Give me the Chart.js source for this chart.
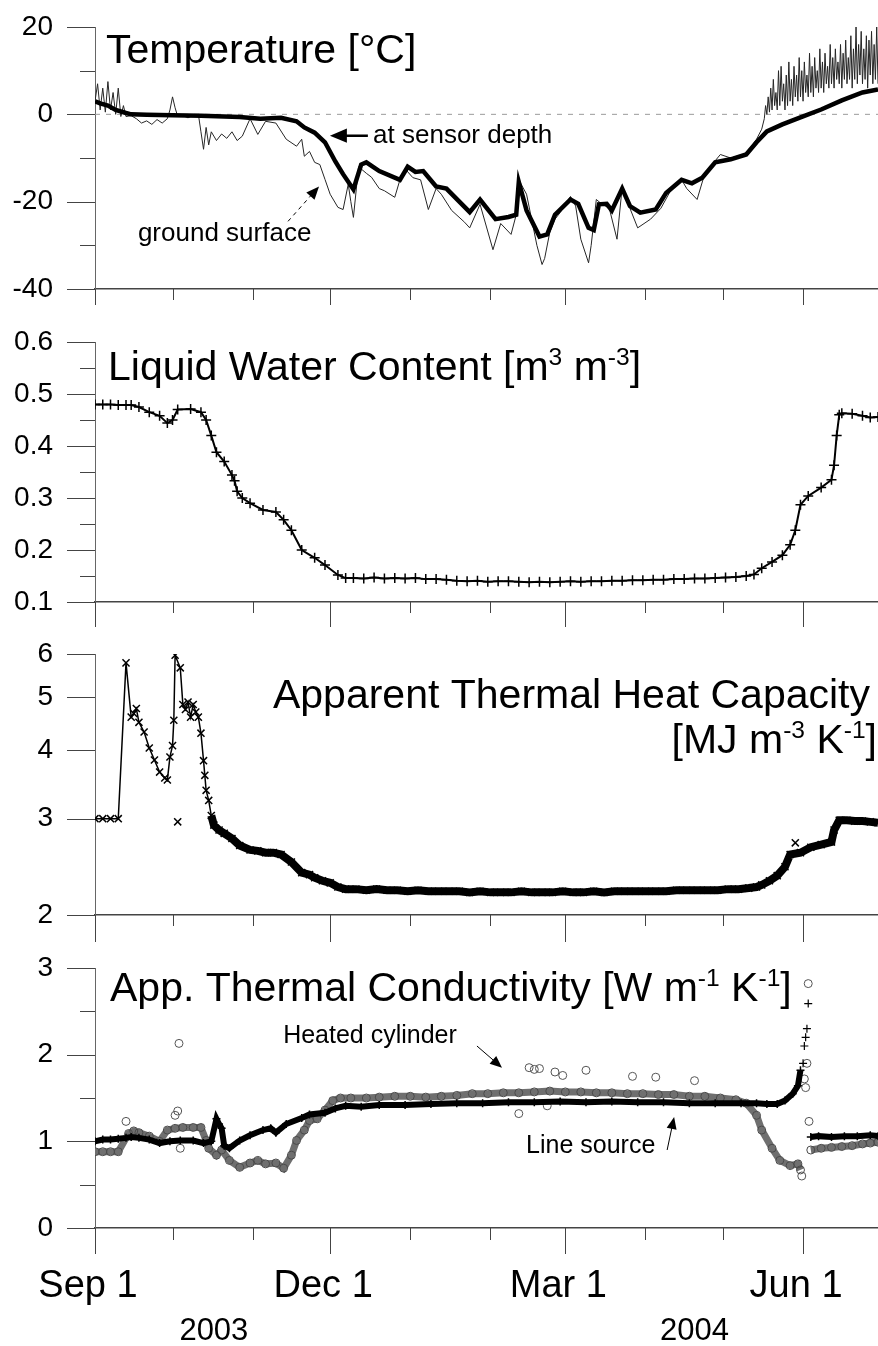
<!DOCTYPE html>
<html>
<head>
<meta charset="utf-8">
<title>Soil temperature, water and thermal properties 2003-2004</title>
<script src="https://cdn.jsdelivr.net/npm/chart.js@4.4.0/dist/chart.umd.min.js"></script>
<style>
  body { margin: 0; background: #fff; }
  #wrap { position: relative; width: 878px; height: 1346px; overflow: hidden; background: #fff; }
  canvas { position: absolute; left: 0; }
</style>
</head>
<body>
<div id="wrap">
  <canvas id="tempChart" width="878" height="317" style="top:2px"></canvas>
  <canvas id="waterChart" width="878" height="315" style="top:317px"></canvas>
  <canvas id="capChart" width="878" height="316" style="top:629px"></canvas>
  <canvas id="condChart" width="878" height="403" style="top:943px"></canvas>
</div>
<script>
// x values are days since Sep 1 2003
const monthDays = [0, 30, 61, 91, 122, 153, 182, 213, 243, 274];
const labelDays = [0, 91, 182, 274];
const labelText = ['Sep 1', 'Dec 1', 'Mar 1', 'Jun 1'];
const yearDays = [46, 232];
const yearText = ['2003', '2004'];

// Temperature [°C]
const sensorDays = [0,2,5,8,12,14,20,30,41,50,56,64,72,78,81,85,89,93,96,100,103,105,110,118,121,124,127,132,136,145,149,155,160,163,164,167,172,175,178,184,187,191,193,195,198,200,204,207,211,217,221,227,231,235,240,246,252,256,260,266,273,281,289,297,303];
const sensorTemp = [3,2.5,2,1,0.3,0,-0.1,-0.2,-0.3,-0.5,-0.6,-1,-0.8,-1.6,-3,-4.2,-6.4,-10.8,-13.7,-17.2,-11.5,-11,-13,-15,-12,-13.2,-13,-16.5,-17,-22.4,-19.5,-24,-23.5,-23,-15.5,-22,-28,-27.5,-23,-19.5,-20.5,-26,-26.5,-20.6,-20.5,-22,-17,-21,-22.5,-21.8,-18,-15,-15.8,-14.5,-11,-10.3,-9.2,-6.4,-3.9,-2.3,-0.7,1.1,3.2,5,5.7];
const surfaceDays = [
  0,1,2,3,4,5,6,7,8,9,
  10,11,12,14,16,18,20,22,24,26,
  28,29,30,31,32,34,36,38,40,41,
  42,43,44,45,47,49,51,53,55,57,
  60,63,66,70,74,78,80,81,83,85,
  87,89,91,94,96,98,99,100,102,105,
  107,110,112,116,118,120,123,126,129,132,
  134,138,143,145,149,154,157,161,163,164,
  167,171,173,174,176,178,180,184,186,188,
  191,192,194,196,199,202,204,207,210,215,
  219,223,227,229,233,236,242,246,252,256,
  258,259,259.5,260,260.5,261,261.5,262,262.5,263,
  263.5,264,264.5,265,265.5,266,266.5,267,267.5,268,
  268.5,269,269.5,270,270.5,271,271.5,272,272.5,273,
  273.5,274,274.5,275,275.5,276,276.5,277,277.5,278,
  278.5,279,279.5,280,280.5,281,281.5,282,282.5,283,
  283.5,284,284.5,285,285.5,286,286.5,287,287.5,288,
  288.5,289,289.5,290,290.5,291,291.5,292,292.5,293,
  293.5,294,294.5,295,295.5,296,296.5,297,297.5,298,
  298.5,299,299.5,300,300.5,301,301.5,302,302.5,303];
const surfaceTemp = [
  3,7,1,6,0.5,7.5,1,5,0,6,
  -0.5,2,-0.5,-0.3,-1,-2,-1.5,-2.3,-1.2,-2,
  -1,1,4,1.5,-0.5,-0.3,-0.8,-0.2,0,-4,
  -8,-3,-7,-4,-6,-4.5,-5.5,-4,-6,-5,
  -1,-4.6,-1.6,-2,-5.7,-7.3,-5.7,-9.6,-8.5,-11,
  -11.5,-14.9,-18.3,-21.3,-21.8,-16,-20,-23.6,-12,-13.5,
  -14.4,-17,-17.5,-19,-15,-12.5,-14.5,-15,-21.8,-17,
  -18.3,-22,-24.7,-26,-20.6,-31,-25,-27.5,-23,-15,
  -18.3,-30,-34.4,-33,-27,-24,-22.5,-18.8,-21,-28.6,
  -34,-30,-19.5,-20.5,-21.5,-28.6,-16.7,-21.5,-26,-24,
  -21.5,-17.2,-15,-17,-19.5,-13.5,-9.2,-10,-9,-5.7,
  -3.4,-1,2,0,4,0.5,6,1,8,2,
  5,1,10,2,11,3,7,1,9,2,
  12,3,8,2,11,4,9,3,13,4,
  10,3,12,5,9,4,14,5,11,4,
  13,6,10,5,15,6,12,5,14,7,
  11,6,16,7,13,6,15,8,12,7,
  16,6,14,8,17,7,13,8,18,6,
  15,8,20,7,16,9,19,7,15,8,
  18,6,17,9,19,7,16,8,20,7];
const zeroDays = [0, 303];
const zeroTemp = [0, 0];
const tempTicks = [-40, -30, -20, -10, 0, 10, 20];
const tempLabels = [-40, -20, 0, 20];

// Liquid water content [m3 m-3]
const lwcDays = [
  0,3,6,9,12,14,17,21,25,28,
  30,32,37,41,43,45,47,50,53,54,
  55,57,60,65,70,73,76,80,85,89,
  94,97,100,104,108,112,116,120,124,128,
  132,136,140,144,148,152,156,160,164,168,
  172,176,180,184,188,192,196,200,204,208,
  212,216,220,224,228,232,236,240,244,248,
  252,255,258,262,266,269,271,273,276,281,
  285,286,287,288,289,293,297,300,303];
const lwcVals = [
  0.48,0.48,0.48,0.479,0.479,0.479,0.475,0.465,0.458,0.444,
  0.45,0.47,0.471,0.465,0.45,0.42,0.388,0.37,0.344,0.333,
  0.313,0.3,0.29,0.277,0.273,0.258,0.238,0.2,0.185,0.171,
  0.152,0.146,0.146,0.145,0.147,0.145,0.146,0.145,0.146,0.144,
  0.144,0.143,0.141,0.14,0.141,0.139,0.14,0.14,0.139,0.138,
  0.139,0.138,0.139,0.14,0.139,0.14,0.14,0.141,0.141,0.142,
  0.142,0.143,0.143,0.144,0.144,0.145,0.145,0.146,0.147,0.148,
  0.15,0.153,0.165,0.177,0.19,0.21,0.238,0.287,0.304,0.32,
  0.335,0.363,0.42,0.46,0.463,0.462,0.458,0.455,0.456];
const lwcTicks = [0.1, 0.15, 0.2, 0.25, 0.3, 0.35, 0.4, 0.45, 0.5, 0.55, 0.6];
const lwcLabels = [0.1, 0.2, 0.3, 0.4, 0.5, 0.6];

// Apparent heat capacity [MJ m-3 K-1]
const capDays = [
  0,3,6,9,12,14,15,16,17,19,
  21,23,25,27,28,29,30,30.5,31,33,
  34,35,36,37,38,39,40,41,42,42.5,
  43,44,45,46,48,50,53,56,60,63,
  66,69,72,76,80,83,85,88,91,94,
  97,101,105,109,113,117,121,125,129,133,
  137,141,145,149,153,157,161,165,169,173,
  177,181,185,189,193,197,201,205,209,213,
  217,221,225,229,233,237,241,245,249,253,
  256,258,261,264,267,269,273,277,281,285,
  286,288,291,294,297,300,303];
const capVals = [
  3,3,3,3,5.78,4.6,4.67,4.77,4.5,4.32,
  4.04,3.84,3.65,3.56,3.53,3.89,4.08,4.54,5.97,5.66,
  4.85,4.75,4.9,4.6,4.85,4.7,4.6,4.3,3.83,3.6,
  3.38,3.24,3.04,2.92,2.86,2.82,2.76,2.68,2.63,2.62,
  2.6,2.6,2.58,2.5,2.39,2.37,2.34,2.31,2.29,2.25,
  2.23,2.23,2.22,2.23,2.22,2.22,2.21,2.22,2.21,2.21,
  2.21,2.21,2.2,2.21,2.2,2.2,2.2,2.21,2.2,2.2,
  2.2,2.21,2.2,2.2,2.21,2.2,2.21,2.21,2.21,2.21,
  2.21,2.21,2.22,2.22,2.22,2.22,2.22,2.23,2.23,2.24,
  2.25,2.27,2.31,2.36,2.45,2.58,2.6,2.66,2.69,2.72,
  2.86,2.98,2.98,2.97,2.97,2.96,2.95];
const capOutDays = [32, 271];
const capOutVals = [2.96, 2.71];
const capTicks = [2, 3, 4, 5, 6];

// Apparent thermal conductivity [W m-1 K-1]
const lineDays = [
  0,3,6,9,12,14,17,21,25,29,
  33,38,42,45,47,48,49,50,52,56,
  60,65,68,70,74,80,83,89,93,97,
  103,110,120,130,140,150,160,170,180,190,
  200,210,220,230,240,250,256,260,264,267,
  270,272,273,275,277,280,285,290,295,300,
  303];
const lineVals = [
  1,1.02,1.02,1.03,1.04,1.05,1.04,1.02,0.98,1,
  1.01,1.01,0.98,1,1.26,1.2,1.15,0.95,0.92,1.01,
  1.07,1.13,1.15,1.1,1.2,1.27,1.31,1.33,1.38,1.41,
  1.4,1.42,1.42,1.43,1.44,1.44,1.45,1.45,1.46,1.45,
  1.46,1.45,1.45,1.44,1.44,1.44,1.44,1.43,1.43,1.47,
  1.55,1.64,1.82,null,1.05,1.06,1.05,1.06,1.06,1.07,
  1.06];
const lineOutDays = [274, 274.5, 275, 275.5, 276];
const lineOutVals = [1.9, 2.1, 2.2, 2.3, 2.59];
const cylDays = [
  0,3,6,9,13,15,17,21,25,28,
  31,34,38,41,43,44,47,49,52,56,
  60,63,66,70,73,76,78,81,83,86,
  89,92,95,99,105,110,116,122,128,134,
  140,146,152,158,164,170,176,182,188,194,
  200,206,212,218,224,230,236,242,248,252,
  256,258,262,265,269,272,273,275,277,281,
  285,289,293,297,300,303];
const cylVals = [
  0.88,0.88,0.88,0.88,1.09,1.12,1.1,1.06,1,1.13,
  1.15,1.16,1.16,1.16,1.01,0.92,0.84,0.9,0.78,0.7,
  0.75,0.78,0.74,0.75,0.69,0.84,1.01,1.13,1.24,1.26,
  1.36,1.47,1.5,1.5,1.5,1.51,1.52,1.52,1.51,1.52,
  1.53,1.55,1.55,1.56,1.56,1.57,1.58,1.57,1.57,1.56,
  1.56,1.55,1.55,1.54,1.54,1.52,1.52,1.5,1.48,1.44,
  1.3,1.13,0.92,0.78,0.72,0.74,0.67,null,0.9,0.92,
  0.93,0.94,0.95,0.97,0.98,0.99];
const cylOutDays = [12,31,32,32.5,33,164,168,170,172,175,178,181,190,208,217,232,273.5,274.5,275,275.5,276,276.3];
const cylOutVals = [1.23,1.3,1.35,2.13,0.92,1.32,1.85,1.83,1.84,1.41,1.8,1.76,1.82,1.75,1.74,1.7,0.6,1.72,1.62,1.9,2.82,1.23];
const condTicks = [0, 0.5, 1, 1.5, 2, 2.5, 3];
const condLabels = [0, 1, 2, 3];

const fontFam = '"Liberation Sans", Arial, Helvetica, sans-serif';
Chart.defaults.font.family = fontFam;
Chart.defaults.color = '#000';

function pts(days, vals) {
  return days.map((d, i) => ({ x: d, y: vals[i] }));
}

// text with superscript pieces: parts = [[text, isSup], ...]
function drawRich(ctx, parts, x, y, size, align) {
  const widths = parts.map(p => {
    ctx.font = (p[1] ? size * 0.6 : size) + 'px ' + fontFam;
    return ctx.measureText(p[0]).width;
  });
  let cx = align === 'right' ? x - widths.reduce((a, b) => a + b, 0) : x;
  ctx.textAlign = 'left';
  parts.forEach((p, i) => {
    ctx.font = (p[1] ? size * 0.6 : size) + 'px ' + fontFam;
    ctx.fillText(p[0], cx, p[1] ? y - size * 0.36 : y);
    cx += widths[i];
  });
}

function arrow(ctx, x1, y1, x2, y2, head, lw, dashed) {
  const a = Math.atan2(y2 - y1, x2 - x1);
  const c = Math.cos(a), s = Math.sin(a);
  ctx.lineWidth = lw;
  ctx.setLineDash(dashed ? [4, 4] : []);
  ctx.beginPath();
  ctx.moveTo(x1, y1);
  ctx.lineTo(x2 - c * head * 0.8, y2 - s * head * 0.8);
  ctx.stroke();
  ctx.setLineDash([]);
  ctx.beginPath();
  ctx.moveTo(x2, y2);
  ctx.lineTo(x2 - head * c + head * 0.42 * s, y2 - head * s - head * 0.42 * c);
  ctx.lineTo(x2 - head * c - head * 0.42 * s, y2 - head * s + head * 0.42 * c);
  ctx.closePath();
  ctx.fill();
}

const tickMarks = {
  id: 'tickMarks',
  afterDraw(chart, args, opts) {
    const { ctx, chartArea } = chart;
    const xs = chart.scales.x, ys = chart.scales.y;
    ctx.save();
    ctx.strokeStyle = '#444';
    ctx.lineWidth = 1;
    ctx.beginPath();
    xs.ticks.forEach(t => {
      const px = Math.round(xs.getPixelForValue(t.value)) + 0.5;
      const len = labelDays.includes(t.value) ? opts.xLong : opts.xShort;
      ctx.moveTo(px, chartArea.bottom);
      ctx.lineTo(px, chartArea.bottom + len);
    });
    ys.ticks.forEach(t => {
      const py = Math.round(ys.getPixelForValue(t.value)) + 0.5;
      const len = opts.yMajor.includes(t.value) ? 28 : 15;
      ctx.moveTo(chartArea.left, py);
      ctx.lineTo(chartArea.left - len, py);
    });
    ctx.stroke();
    ctx.restore();
  }
};

const panelText = {
  id: 'panelText',
  afterDraw(chart, args, opts) {
    const { ctx, chartArea } = chart;
    const xs = chart.scales.x, ys = chart.scales.y;
    ctx.save();
    ctx.fillStyle = '#000';
    ctx.strokeStyle = '#000';
    ctx.textBaseline = 'alphabetic';
    (opts.titles || []).forEach(t => {
      const x = t.align === 'right' ? chartArea.right + t.dx : chartArea.left + t.dx;
      drawRich(ctx, t.parts, x, chartArea.top + t.dy, t.size, t.align);
    });
    (opts.notes || []).forEach(n => {
      ctx.font = n.size + 'px ' + fontFam;
      ctx.textAlign = 'left';
      ctx.fillText(n.text, xs.getPixelForValue(n.at[0]), ys.getPixelForValue(n.at[1]));
    });
    (opts.arrows || []).forEach(a => {
      arrow(ctx, xs.getPixelForValue(a.from[0]), ys.getPixelForValue(a.from[1]),
        xs.getPixelForValue(a.to[0]), ys.getPixelForValue(a.to[1]), a.head, a.lw, a.dashed);
    });
    if (opts.years) {
      ctx.font = '31px ' + fontFam;
      ctx.textAlign = 'center';
      yearDays.forEach((d, i) => {
        ctx.fillText(yearText[i], xs.getPixelForValue(d), chartArea.bottom + opts.years);
      });
    }
    ctx.restore();
  }
};

function xAxis(showLabels, height) {
  return {
    type: 'linear', min: 0, max: 303,
    afterBuildTicks: s => { s.ticks = monthDays.map(v => ({ value: v })); },
    afterFit: s => { s.height = height; },
    grid: { drawOnChartArea: false, drawTicks: true, tickLength: 26, tickColor: 'rgba(0,0,0,0)' },
    border: { display: true, color: '#444', width: 1.5 },
    ticks: {
      display: showLabels, autoSkip: false, maxRotation: 0, padding: 10, labelOffset: -7,
      font: { size: 38 },
      callback: v => { const i = labelDays.indexOf(v); return i >= 0 ? labelText[i] : ''; }
    }
  };
}

function yAxis(type, min, max, tickVals, majors, fmt) {
  return {
    type: type, min: min, max: max,
    afterBuildTicks: s => { s.ticks = tickVals.map(v => ({ value: v })); },
    afterFit: s => { s.width = 95; },
    grid: { drawOnChartArea: false, drawTicks: true, tickLength: 40, tickColor: 'rgba(0,0,0,0)' },
    border: { display: true, color: '#666', width: 1 },
    ticks: {
      autoSkip: false, padding: 2, font: { size: 28 },
      callback: v => majors.includes(v) ? fmt(v) : ''
    }
  };
}

function options(x, y, ticksOpt, textOpt) {
  return {
    responsive: false,
    animation: false,
    events: [],
    layout: { autoPadding: false, padding: { top: 25, left: 0, right: 0, bottom: 0 } },
    elements: { line: { tension: 0, fill: false } },
    plugins: {
      legend: { display: false },
      tooltip: { enabled: false },
      tickMarks: ticksOpt,
      panelText: textOpt
    },
    scales: { x: x, y: y }
  };
}

const noLine = { showLine: false };

new Chart(document.getElementById('tempChart'), {
  type: 'line',
  data: {
    datasets: [
      { label: 'at sensor depth', data: pts(sensorDays, sensorTemp), borderColor: '#000', borderWidth: 4.5, pointRadius: 0 },
      { label: 'ground surface', data: pts(surfaceDays, surfaceTemp), borderColor: '#262626', borderWidth: 1, pointRadius: 0 },
      { label: 'zero', data: pts(zeroDays, zeroTemp), borderColor: '#9a9a9a', borderWidth: 1, borderDash: [5, 6], pointRadius: 0 }
    ]
  },
  options: options(
    xAxis(false, 30),
    yAxis('linear', -40, 20, tempTicks, tempLabels, v => String(v)),
    { xLong: 16, xShort: 11, yMajor: tempLabels },
    {
      titles: [{ parts: [['Temperature [\u00B0C]', 0]], dx: 11, dy: 36, size: 41 }],
      notes: [
        { text: 'at sensor depth', at: [107.6, -6.6], size: 26 },
        { text: 'ground surface', at: [16.6, -29.1], size: 26 }
      ],
      arrows: [
        { from: [105.6, -4.9], to: [90.9, -4.9], head: 17, lw: 2.5 },
        { from: [74.7, -24.5], to: [86.7, -16.5], head: 13, lw: 1, dashed: true }
      ]
    }
  ),
  plugins: [tickMarks, panelText]
});

new Chart(document.getElementById('waterChart'), {
  type: 'line',
  data: {
    datasets: [
      { label: 'Liquid water content', data: pts(lwcDays, lwcVals), borderColor: '#000', borderWidth: 2,
        pointStyle: 'cross', pointRadius: 5, pointBorderColor: '#000', pointBorderWidth: 1.5 }
    ]
  },
  options: options(
    xAxis(false, 30),
    yAxis('linear', 0.1, 0.6, lwcTicks, lwcLabels, v => v.toFixed(1)),
    { xLong: 25, xShort: 11, yMajor: lwcLabels },
    {
      titles: [{ parts: [['Liquid Water Content [m', 0], ['3', 1], [' m', 0], ['-3', 1], [']', 0]], dx: 13, dy: 38, size: 41 }]
    }
  ),
  plugins: [tickMarks, panelText]
});

new Chart(document.getElementById('capChart'), {
  type: 'line',
  data: {
    datasets: [
      { label: 'Heat capacity', data: pts(capDays, capVals), borderColor: '#000', borderWidth: 1.5,
        segment: { borderWidth: c => (c.p0.parsed.x >= 45 ? 8 : 1.5) },
        pointStyle: 'crossRot', pointRadius: 5, pointBorderColor: '#000', pointBorderWidth: 1.5 },
      Object.assign({ label: 'Heat capacity (single)', data: pts(capOutDays, capOutVals),
        pointStyle: 'crossRot', pointRadius: 5, pointBorderColor: '#000', pointBorderWidth: 1.5 }, noLine)
    ]
  },
  options: options(
    xAxis(false, 30),
    yAxis('logarithmic', 2, 6, capTicks, capTicks, v => String(v)),
    { xLong: 27, xShort: 11, yMajor: capTicks },
    {
      titles: [
        { parts: [['Apparent Thermal Heat Capacity', 0]], dx: -8, dy: 54, size: 41, align: 'right' },
        { parts: [['[MJ m', 0], ['-3', 1], [' K', 0], ['-1', 1], [']', 0]], dx: -1, dy: 99, size: 41, align: 'right' }
      ]
    }
  ),
  plugins: [tickMarks, panelText]
});

new Chart(document.getElementById('condChart'), {
  type: 'line',
  data: {
    datasets: [
      { label: 'Line source', data: pts(lineDays, lineVals), borderColor: '#000', borderWidth: 6,
        pointStyle: 'cross', pointRadius: 4, pointBorderColor: '#000', pointBorderWidth: 1.5 },
      Object.assign({ label: 'Line source (single)', data: pts(lineOutDays, lineOutVals),
        pointStyle: 'cross', pointRadius: 4, pointBorderColor: '#000', pointBorderWidth: 1.2 }, noLine),
      { label: 'Heated cylinder', data: pts(cylDays, cylVals), borderColor: '#6f6f6f', borderWidth: 7,
        pointStyle: 'circle', pointRadius: 4, pointBorderColor: '#4a4a4a', pointBackgroundColor: 'rgba(255,255,255,0)', pointBorderWidth: 1 },
      Object.assign({ label: 'Heated cylinder (single)', data: pts(cylOutDays, cylOutVals),
        pointStyle: 'circle', pointRadius: 4, pointBorderColor: '#555', pointBackgroundColor: 'rgba(255,255,255,0)', pointBorderWidth: 1 }, noLine)
    ]
  },
  options: options(
    xAxis(true, 118),
    yAxis('linear', 0, 3, condTicks, condLabels, v => String(v)),
    { xLong: 26, xShort: 12, yMajor: condLabels },
    {
      titles: [{ parts: [['App. Thermal Conductivity [W m', 0], ['-1', 1], [' K', 0], ['-1', 1], [']', 0]], dx: 15, dy: 33, size: 41 }],
      notes: [
        { text: 'Heated cylinder', at: [72.8, 2.13], size: 25 },
        { text: 'Line source', at: [166.8, 0.87], size: 25 }
      ],
      arrows: [
        { from: [147.8, 2.10], to: [157.5, 1.85], head: 12, lw: 1 },
        { from: [221.4, 0.90], to: [224.1, 1.28], head: 12, lw: 1 }
      ],
      years: 112
    }
  ),
  plugins: [tickMarks, panelText]
});
</script>
</body>
</html>
